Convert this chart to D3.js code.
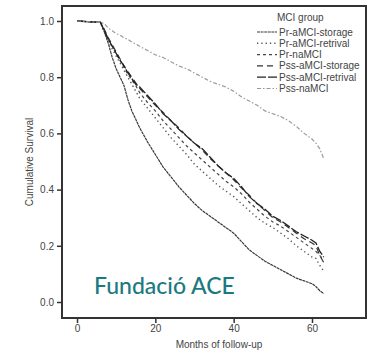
<!DOCTYPE html>
<html>
<head>
<meta charset="utf-8">
<script src="https://cdn.jsdelivr.net/npm/d3@7"></script>
<style>
  body { margin: 0; background: #fff; }
  svg { font-family: "Liberation Sans", Arial, sans-serif; }
</style>
</head>
<body>
<div id="chart"></div>
<script>
// follow-up months where the curves are read
const months = [0, 6, 7, 8, 9, 10, 11, 12, 13, 14, 15, 16, 18, 20, 22, 24, 26, 28, 30, 32, 34, 36, 38, 40, 42, 44, 46, 48, 50, 52, 54, 56, 58, 60, 61, 62, 63];

// cumulative survival per MCI group
const prStorage   = [1, .995, .96, .92, .87, .83, .80, .77, .72, .68, .65, .62, .57, .525, .48, .445, .41, .38, .35, .325, .305, .285, .265, .245, .215, .185, .165, .145, .13, .115, .10, .085, .075, .065, .055, .04, .03];
const prRetrieval = [1, .995, .96, .93, .90, .875, .85, .825, .80, .775, .75, .725, .69, .655, .62, .585, .555, .525, .49, .465, .44, .415, .395, .375, .35, .325, .30, .28, .265, .245, .225, .20, .18, .16, .155, .13, .11];
const prNa        = [1, .995, .965, .935, .91, .885, .86, .835, .81, .79, .77, .745, .71, .68, .645, .615, .585, .555, .53, .505, .48, .455, .43, .41, .385, .355, .33, .305, .285, .27, .25, .23, .21, .19, .18, .165, .15];
const pssStorage  = [1, .995, .97, .94, .915, .89, .865, .84, .82, .80, .78, .76, .73, .70, .675, .645, .62, .59, .565, .54, .51, .485, .46, .435, .405, .38, .35, .325, .30, .285, .265, .245, .225, .21, .20, .165, .14];
const pssRetrieval= [1, .995, .965, .935, .91, .885, .86, .84, .815, .795, .775, .765, .735, .705, .67, .645, .615, .59, .565, .545, .515, .485, .46, .44, .41, .375, .35, .33, .305, .29, .27, .25, .235, .22, .21, .18, .16];
const pssNa       = [1, .995, .99, .975, .965, .955, .95, .94, .935, .925, .918, .91, .895, .88, .87, .855, .84, .83, .815, .80, .785, .775, .765, .75, .73, .715, .70, .68, .67, .66, .645, .625, .60, .58, .565, .545, .51];

const groupNames = ["Pr-aMCI-storage", "Pr-aMCI-retrival", "Pr-naMCI", "Pss-aMCI-storage", "Pss-aMCI-retrival", "Pss-naMCI"];
const xTicks = [0, 20, 40, 60];
const yTicks = [0, 0.2, 0.4, 0.6, 0.8, 1.0];

const series = [
  { name: groupNames[0], values: prStorage,    color: "#3a3a3a", dash: "3,0.6", width: 1.2 },
  { name: groupNames[1], values: prRetrieval,  color: "#555",    dash: "1.3,3", width: 1.4 },
  { name: groupNames[2], values: prNa,         color: "#444",    dash: "3,3",   width: 1.2 },
  { name: groupNames[3], values: pssStorage,   color: "#333",    dash: "6,4",   width: 1.2 },
  { name: groupNames[4], values: pssRetrieval, color: "#222",    dash: "9,2",   width: 1.3 },
  { name: groupNames[5], values: pssNa,        color: "#9a9a9a", dash: "4,2,1.5,2", width: 1.2 }
];

const width = 370, height = 352;
const frame = { left: 62, top: 6, right: 366, bottom: 318 };

const svg = d3.select("#chart").append("svg")
  .attr("width", width)
  .attr("height", height);

const x = d3.scaleLinear().domain([0, 60]).range([77, 312]);
const y = d3.scaleLinear().domain([0, 1]).range([302, 21]);

// frame
svg.append("rect")
  .attr("x", frame.left).attr("y", frame.top)
  .attr("width", frame.right - frame.left)
  .attr("height", frame.bottom - frame.top)
  .attr("fill", "none")
  .attr("stroke", "#333")
  .attr("stroke-width", 2);

// y axis
const yAxis = svg.append("g")
  .attr("transform", "translate(" + frame.left + ",0)")
  .call(d3.axisLeft(y).tickValues(yTicks).tickFormat(d3.format(".1f")).tickSize(5).tickPadding(3));
yAxis.select(".domain").remove();

// x axis
const xAxis = svg.append("g")
  .attr("transform", "translate(0," + frame.bottom + ")")
  .call(d3.axisBottom(x).tickValues(xTicks).tickSize(5).tickPadding(2));
xAxis.select(".domain").remove();

svg.selectAll(".tick line").attr("stroke", "#333").attr("stroke-width", 1.5);
svg.selectAll(".tick text").attr("fill", "#444").style("font-size", "10px")
  .style("font-family", "'Liberation Sans', Arial, sans-serif");

// axis titles
svg.append("text")
  .attr("transform", "translate(33,162) rotate(-90)")
  .attr("text-anchor", "middle")
  .attr("fill", "#444")
  .style("font-size", "10px")
  .text("Cumulative Survival");

svg.append("text")
  .attr("x", 219).attr("y", 348)
  .attr("text-anchor", "middle")
  .attr("fill", "#444")
  .style("font-size", "10px")
  .text("Months of follow-up");

// watermark
svg.append("text")
  .attr("x", 94).attr("y", 294)
  .attr("fill", "#1b7a80")
  .style("font-family", "Lato, 'Open Sans', sans-serif")
  .style("font-weight", 500)
  .style("font-size", "23px")
  .text("Fundació ACE");

// curves
const line = d3.line()
  .x((d, i) => x(months[i]))
  .y(d => y(d))
  .curve(d3.curveLinear);

svg.selectAll("path.curve")
  .data(series)
  .enter()
  .append("path")
  .attr("class", "curve")
  .attr("d", d => line(d.values))
  .attr("fill", "none")
  .attr("stroke", d => d.color)
  .attr("stroke-width", d => d.width)
  .attr("stroke-dasharray", d => d.dash);

// legend
const legend = svg.append("g").attr("transform", "translate(257,0)");
legend.append("text")
  .attr("x", 20).attr("y", 21)
  .attr("fill", "#444")
  .style("font-size", "10px")
  .text("MCI group");

const item = legend.selectAll("g.item")
  .data(series)
  .enter()
  .append("g")
  .attr("class", "item")
  .attr("transform", (d, i) => "translate(0," + (32 + i * 11.3) + ")");

item.append("line")
  .attr("x1", 0).attr("x2", 20)
  .attr("stroke", d => d.color)
  .attr("stroke-width", d => d.width)
  .attr("stroke-dasharray", d => d.dash);

item.append("text")
  .attr("x", 22).attr("y", 3.5)
  .attr("fill", "#444")
  .style("font-size", "10px")
  .text(d => d.name);
</script>
</body>
</html>
